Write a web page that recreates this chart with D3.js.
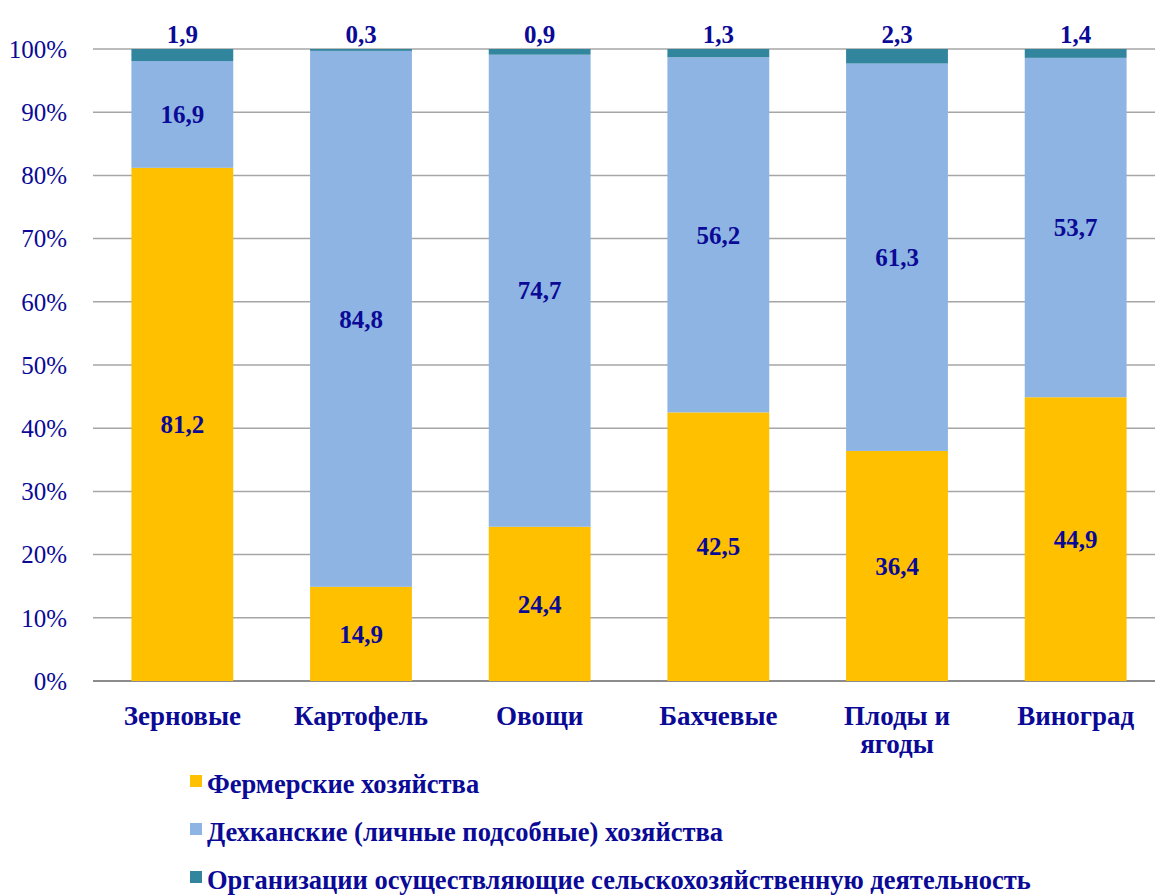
<!DOCTYPE html>
<html>
<head>
<meta charset="utf-8">
<script src="https://cdn.jsdelivr.net/npm/d3@7"></script>
<style>
  body { margin: 0; background: #fff; }
  svg { display: block; font-family: "Liberation Serif", "Times New Roman", serif; }
</style>
</head>
<body>
<div id="chart"></div>
<script>
// chart data
const categories = ['Зерновые', 'Картофель', 'Овощи', 'Бахчевые', 'Плоды и ягоды', 'Виноград'];
const seriesNames = [
    'Фермерские хозяйства',
    'Дехканские (личные подсобные) хозяйства',
    'Организации осуществляющие сельскохозяйственную деятельность'
];
const farmers = [81.2, 14.9, 24.4, 42.5, 36.4, 44.9];
const dekhkan = [16.9, 84.8, 74.7, 56.2, 61.3, 53.7];
const orgs = [1.9, 0.3, 0.9, 1.3, 2.3, 1.4];
const yTicks = [0, 10, 20, 30, 40, 50, 60, 70, 80, 90, 100];

const colors = ['#FFC000', '#8EB4E3', '#31859C'];
const textColor = '#0A0A96';

const W = 1155, H = 896;
const svg = d3.select('#chart').append('svg')
    .attr('width', W)
    .attr('height', H);

const keys = ['f', 'd', 'o'];
const rows = categories.map((c, i) => ({ cat: c, f: farmers[i], d: dekhkan[i], o: orgs[i] }));
const stack = d3.stack().keys(keys)(rows);

const x = d3.scaleBand()
    .domain(categories)
    .range([93, 1165])
    .paddingInner(0.43)
    .paddingOuter(0.215);

const y = d3.scaleLinear()
    .domain([0, 100])
    .range([681, 49]);

// gridlines
svg.append('g')
    .selectAll('line')
    .data(yTicks)
    .enter()
    .append('line')
    .attr('x1', 93)
    .attr('x2', W)
    .attr('y1', d => y(d))
    .attr('y2', d => y(d))
    .attr('stroke', d => d === 0 ? '#8C8C8C' : '#A6A6A6')
    .attr('stroke-width', d => d === 0 ? 2 : 1.5);

// y tick labels
svg.append('g')
    .selectAll('text')
    .data(yTicks)
    .enter()
    .append('text')
    .attr('x', 67)
    .attr('y', d => y(d))
    .attr('dy', '0.35em')
    .attr('text-anchor', 'end')
    .attr('font-size', 25)
    .attr('fill', textColor)
    .text(d => d + '%');

// bars
const layers = svg.append('g')
    .selectAll('g')
    .data(stack)
    .enter()
    .append('g')
    .attr('fill', (d, i) => colors[i]);

layers.selectAll('rect')
    .data(d => d)
    .enter()
    .append('rect')
    .attr('x', d => x(d.data.cat))
    .attr('width', x.bandwidth())
    .attr('y', d => y(d[1]))
    .attr('height', d => y(d[0]) - y(d[1]));

// value labels
stack.forEach((layer, li) => {
    svg.append('g')
        .selectAll('text')
        .data(layer)
        .enter()
        .append('text')
        .attr('x', d => x(d.data.cat) + x.bandwidth() / 2)
        .attr('y', d => li === 2 ? y(100) - 15 : y((d[0] + d[1]) / 2))
        .attr('dy', '0.35em')
        .attr('text-anchor', 'middle')
        .attr('font-size', 25)
        .attr('font-weight', 'bold')
        .attr('fill', textColor)
        .text(d => String(d.data[keys[li]]).replace('.', ','));
});

// category labels
const catLabels = svg.append('g')
    .selectAll('text')
    .data(categories)
    .enter()
    .append('text')
    .attr('x', d => x(d) + x.bandwidth() / 2)
    .attr('y', 716)
    .attr('text-anchor', 'middle')
    .attr('font-size', 27)
    .attr('font-weight', 'bold')
    .attr('fill', textColor);

catLabels.each(function (d) {
    const el = d3.select(this);
    const parts = d === 'Плоды и ягоды' ? ['Плоды и', 'ягоды'] : [d];
    parts.forEach((p, i) => {
        el.append('tspan')
            .attr('x', x(d) + x.bandwidth() / 2)
            .attr('dy', i === 0 ? '0.35em' : 28)
            .text(p);
    });
});

// legend
const legend = svg.append('g')
    .selectAll('g')
    .data(seriesNames)
    .enter()
    .append('g')
    .attr('transform', (d, i) => `translate(190,${784 + i * 48})`);

legend.append('rect')
    .attr('x', 0)
    .attr('y', -9)
    .attr('width', 12)
    .attr('height', 12)
    .attr('fill', (d, i) => colors[i]);

legend.append('text')
    .attr('x', 17)
    .attr('y', 0)
    .attr('dy', '0.35em')
    .attr('font-size', 26.5)
    .attr('font-weight', 'bold')
    .attr('fill', textColor)
    .text(d => d);
</script>
</body>
</html>
